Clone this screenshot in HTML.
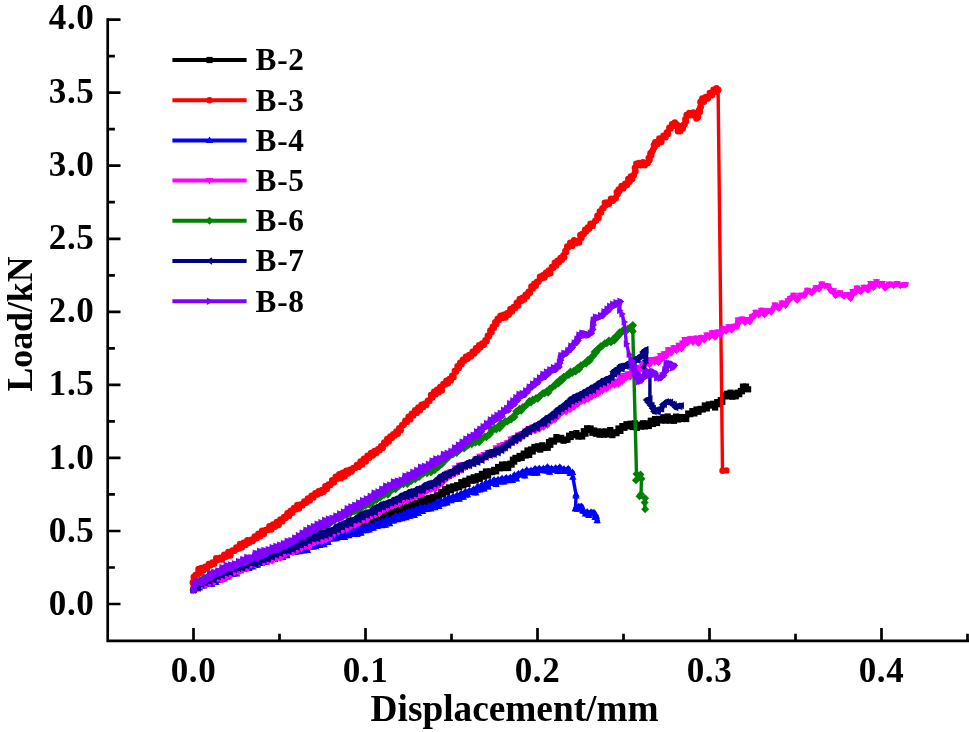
<!DOCTYPE html>
<html lang="en">
<head>
<meta charset="utf-8">
<title>Load / Displacement curves</title>
<style>
html,body{margin:0;padding:0;background:#ffffff;}
body{width:969px;height:732px;overflow:hidden;}
svg{display:block;}
</style>
</head>
<body>
<svg width="969" height="732" viewBox="0 0 969 732">
<rect width="969" height="732" fill="#ffffff"/>
<defs>
<marker id="m2" markerUnits="userSpaceOnUse" markerWidth="10" markerHeight="10" viewBox="-5 -5 10 10" refX="0" refY="0" orient="0" overflow="visible"><g fill="#000000"><rect x="-3.1" y="-3.1" width="6.2" height="6.2"/></g></marker>
<marker id="m3" markerUnits="userSpaceOnUse" markerWidth="10" markerHeight="10" viewBox="-5 -5 10 10" refX="0" refY="0" orient="0" overflow="visible"><g fill="#ff0000"><circle r="3.2"/></g></marker>
<marker id="m4" markerUnits="userSpaceOnUse" markerWidth="10" markerHeight="10" viewBox="-5 -5 10 10" refX="0" refY="0" orient="0" overflow="visible"><g fill="#0000ff"><path d="M0 -4 L3.7 2.6 L-3.7 2.6 Z"/></g></marker>
<marker id="m5" markerUnits="userSpaceOnUse" markerWidth="10" markerHeight="10" viewBox="-5 -5 10 10" refX="0" refY="0" orient="0" overflow="visible"><g fill="#ff00ff"><path d="M0 4 L3.7 -2.6 L-3.7 -2.6 Z"/></g></marker>
<marker id="m6" markerUnits="userSpaceOnUse" markerWidth="10" markerHeight="10" viewBox="-5 -5 10 10" refX="0" refY="0" orient="0" overflow="visible"><g fill="#008000"><path d="M0 -4 L4 0 L0 4 L-4 0 Z"/></g></marker>
<marker id="m7" markerUnits="userSpaceOnUse" markerWidth="10" markerHeight="10" viewBox="-5 -5 10 10" refX="0" refY="0" orient="0" overflow="visible"><g fill="#000080"><path d="M-4 0 L2.6 -3.7 L2.6 3.7 Z"/></g></marker>
<marker id="m8" markerUnits="userSpaceOnUse" markerWidth="10" markerHeight="10" viewBox="-5 -5 10 10" refX="0" refY="0" orient="0" overflow="visible"><g fill="#8000ff"><path d="M4 0 L-2.6 -3.7 L-2.6 3.7 Z"/></g></marker>
</defs>
<g fill="none" stroke-width="3.4" stroke-linejoin="round" stroke-linecap="round">
<polyline stroke="#000000" stroke-width="4.4" marker-start="url(#m2)" marker-mid="url(#m2)" marker-end="url(#m2)" points="193.5,590.0 194.5,587.4 196.8,584.9 199.2,586.6 201.5,583.1 203.6,583.9 205.6,580.0 207.7,582.7 209.8,578.1 211.8,581.4 213.9,576.9 215.9,579.4 218.0,577.1 220.1,577.8 222.1,573.3 224.2,576.2 226.2,572.1 228.3,574.0 230.4,570.3 232.4,572.7 234.5,569.6 236.6,570.7 238.6,566.8 240.7,569.6 242.8,564.7 244.8,568.0 246.9,565.1 248.9,567.4 251.0,563.3 253.1,564.7 255.3,560.6 257.4,563.8 259.6,559.9 261.7,562.8 263.9,558.4 266.0,561.9 268.2,556.6 270.3,559.1 272.4,556.3 274.4,558.8 276.5,553.7 278.6,555.5 280.6,551.0 282.7,553.6 284.8,549.3 286.9,552.2 288.9,547.8 291.0,551.2 293.1,547.5 295.1,550.6 297.2,547.0 299.2,548.5 301.3,544.4 303.4,547.0 305.4,542.7 307.5,545.5 309.5,541.5 311.6,543.7 313.7,541.2 315.7,544.1 317.8,539.3 319.8,542.0 321.9,537.1 324.0,538.8 326.0,535.4 328.1,536.9 330.1,533.3 332.2,535.0 334.3,530.2 336.3,533.5 338.4,529.9 340.5,532.0 342.5,528.2 344.6,531.7 346.7,527.7 348.8,529.5 350.8,526.7 352.9,528.1 354.9,524.8 357.0,526.5 359.0,522.3 361.0,526.5 363.1,521.7 365.1,524.2 367.2,519.2 369.2,521.8 371.2,517.7 373.3,522.0 375.3,517.1 377.3,519.7 379.4,515.9 381.4,516.9 383.5,512.5 385.5,516.1 387.5,511.6 389.6,515.3 391.6,511.6 393.7,512.6 395.7,508.4 397.8,512.1 399.9,507.6 401.9,510.4 404.0,506.0 406.1,509.4 408.1,504.3 410.2,507.7 412.2,503.8 414.3,506.9 416.4,502.7 418.4,503.9 420.5,500.3 422.6,503.5 424.6,499.2 426.7,502.0 428.8,497.9 430.8,500.8 432.9,497.0 434.9,499.4 436.9,495.2 438.9,496.6 440.9,492.0 443.0,494.4 445.0,489.1 447.0,492.2 449.0,487.5 451.0,490.2 453.1,486.4 455.1,488.4 457.2,485.2 459.2,487.2 461.3,482.2 463.4,485.3 465.4,480.7 467.5,484.0 469.5,478.7 471.6,480.7 473.7,477.3 475.7,480.4 477.8,476.2 479.8,478.8 481.9,473.9 484.0,476.7 486.0,471.5 488.1,475.5 490.1,471.3 492.2,472.1 494.1,469.9 496.1,471.3 498.1,467.0 500.0,468.3 502.1,464.6 504.1,468.0 506.2,464.4 508.2,468.0 510.3,463.7 511.6,464.6 512.9,459.7 514.2,461.6 515.5,457.9 517.6,458.8 519.6,456.0 521.7,458.0 523.7,453.6 525.8,455.5 527.5,450.5 529.2,454.9 531.0,449.5 532.7,451.5 534.4,447.0 536.1,448.7 538.2,446.3 540.2,449.6 542.3,445.3 544.3,448.0 546.4,446.8 547.7,447.8 549.0,442.1 550.3,444.8 551.6,440.6 554.0,441.6 556.4,437.1 558.8,439.5 561.2,437.9 563.6,440.7 566.0,439.9 567.5,439.6 569.1,435.7 570.7,437.0 572.2,434.1 574.3,435.2 576.4,433.1 578.4,436.6 580.5,435.3 582.2,436.5 583.8,431.2 585.5,433.6 587.1,428.3 588.8,430.0 590.6,428.5 592.4,432.8 594.2,430.5 596.0,433.7 597.8,431.5 599.6,434.7 601.7,431.6 603.9,434.7 606.0,431.4 608.1,434.4 610.2,430.1 612.4,435.1 614.5,432.3 616.5,433.2 618.5,428.5 620.4,430.9 622.4,426.1 624.4,427.8 626.5,424.2 628.6,426.3 630.7,423.7 632.7,427.0 634.8,423.4 636.9,427.8 639.0,424.7 640.9,426.6 642.9,423.3 644.8,426.5 646.7,423.4 648.8,426.0 650.8,420.7 652.9,424.0 655.0,419.1 657.0,423.0 659.1,418.9 661.2,420.5 663.4,417.3 665.5,420.6 667.7,416.5 669.9,420.6 672.0,418.2 674.0,420.8 676.0,416.6 678.0,419.5 680.1,417.0 682.1,419.0 684.1,417.1 686.2,419.0 688.2,413.5 690.3,414.2 692.4,411.1 694.4,413.4 696.5,409.5 698.5,411.8 700.6,408.9 702.7,409.5 704.8,405.5 706.8,408.4 708.9,404.4 711.0,405.6 713.0,403.8 715.1,407.5 717.2,402.1 719.2,404.2 720.8,400.2 722.3,401.8 723.9,395.4 725.4,396.2 727.1,393.7 728.9,396.2 730.6,392.7 732.3,396.7 734.0,394.1 735.7,396.3 737.4,392.7 739.2,394.2 740.9,391.0 741.9,391.2 743.0,386.6 744.0,387.3 746.0,386.6 748.1,389.3"/>
<polyline stroke="#ff0000" stroke-width="4.8" marker-start="url(#m3)" marker-mid="url(#m3)" marker-end="url(#m3)" points="193.5,589.0 193.3,589.5 193.0,583.1 192.8,582.4 193.7,576.9 194.6,579.5 195.5,574.9 197.0,574.6 198.5,568.9 200.0,572.9 201.5,568.0 203.3,570.6 205.2,566.7 207.0,568.6 208.8,563.9 210.7,565.3 212.5,562.4 214.3,563.8 216.2,558.3 218.0,560.0 220.1,557.6 222.1,559.5 224.2,554.7 226.2,556.8 228.3,551.9 230.4,555.6 232.4,550.5 234.5,550.7 236.3,547.5 238.2,548.7 240.0,544.0 241.8,547.6 243.7,542.8 245.5,544.9 247.3,540.1 249.2,542.7 251.0,539.6 252.8,541.1 254.7,536.5 256.5,538.2 258.4,533.6 260.2,536.3 262.1,530.7 263.9,534.0 265.8,529.9 267.6,530.0 269.4,526.2 271.3,529.5 273.1,524.5 274.9,526.7 276.8,521.9 278.6,525.1 280.4,519.5 282.3,521.4 284.1,516.9 285.8,518.1 287.4,513.2 289.1,515.9 290.7,510.6 292.4,512.7 294.0,508.0 295.7,509.4 297.3,505.0 299.0,508.5 300.6,504.5 302.4,505.4 304.3,501.4 306.1,502.8 307.9,498.4 309.8,500.5 311.6,495.6 313.4,497.4 315.3,493.2 317.1,494.6 318.7,491.1 320.4,493.3 322.0,489.9 323.7,491.8 325.3,486.1 327.0,489.0 328.6,484.5 330.4,485.1 332.1,480.1 333.9,482.5 335.7,476.7 337.5,478.8 339.2,474.3 341.0,478.3 342.8,472.7 344.5,476.5 346.3,470.6 348.1,473.5 349.9,469.8 351.6,471.5 353.4,467.9 355.2,468.0 356.9,464.9 358.7,466.9 360.5,461.5 362.2,464.6 364.0,458.8 365.8,461.5 367.5,455.6 369.3,457.8 371.0,452.9 372.8,455.5 374.6,451.0 376.3,453.1 378.1,449.3 379.6,450.3 381.1,446.1 382.7,448.1 384.2,442.5 385.7,443.8 387.2,439.0 388.8,441.4 390.3,436.4 391.8,437.9 393.3,434.1 394.8,435.5 396.3,431.5 397.8,433.8 399.2,428.1 400.7,430.2 402.2,424.9 403.7,425.0 405.3,420.7 406.9,422.0 408.6,416.6 410.2,419.4 411.8,413.6 413.4,415.4 415.1,410.3 416.7,412.9 418.3,407.5 419.9,410.2 421.6,404.7 423.2,407.1 424.8,403.7 426.3,404.9 427.9,400.6 429.4,401.1 431.0,395.0 432.5,397.6 434.1,391.8 435.6,394.3 437.1,389.8 438.7,392.3 440.2,387.0 441.8,390.6 443.3,384.0 444.9,384.5 446.4,380.6 448.0,383.3 449.5,378.9 450.8,380.4 452.2,375.8 453.5,377.2 454.8,371.0 456.2,371.5 457.5,366.1 458.9,368.1 460.2,362.6 461.5,364.3 462.9,359.6 464.2,360.7 465.9,356.8 467.6,358.7 469.2,354.9 470.9,356.5 472.6,351.8 474.3,353.6 475.9,348.2 477.5,350.2 479.1,345.2 480.6,347.3 482.2,343.4 483.8,344.7 485.4,340.2 486.6,341.2 487.8,335.7 489.1,336.2 490.3,330.5 491.5,332.2 492.7,326.8 494.0,327.7 495.2,322.1 496.4,324.0 497.7,318.6 498.9,320.0 500.5,315.8 502.2,318.1 503.8,314.7 505.5,317.6 507.1,313.2 508.8,314.7 510.4,309.0 512.1,311.6 513.7,306.9 515.2,308.1 516.7,302.7 518.2,305.6 519.7,298.9 521.2,301.0 522.6,297.8 524.1,299.5 525.6,294.7 527.1,296.4 528.6,291.8 530.0,292.7 531.4,286.5 532.8,288.5 534.3,283.8 535.7,285.7 537.1,281.6 538.5,281.7 540.0,276.7 541.5,278.4 543.0,275.1 544.5,277.5 546.0,272.7 547.4,274.0 548.9,270.4 550.4,273.3 551.9,267.0 553.4,267.7 554.8,262.7 556.2,265.6 557.6,260.6 559.1,262.0 560.5,257.9 561.9,259.7 563.3,255.4 564.3,257.3 565.3,250.9 566.2,252.0 567.2,246.5 568.2,247.2 570.2,242.7 572.2,245.9 574.1,240.3 576.1,243.3 578.1,240.9 579.2,242.5 580.3,235.0 581.5,237.9 582.6,233.7 583.7,234.3 585.1,229.8 586.4,231.3 587.8,227.5 589.1,228.7 590.5,223.8 592.7,226.1 594.9,221.3 596.1,220.4 597.4,215.7 598.6,217.9 599.8,211.5 601.1,212.4 602.3,208.5 603.5,208.0 604.8,202.8 606.0,205.0 607.2,202.4 609.1,203.7 611.0,198.8 612.8,200.7 614.7,198.4 615.7,198.3 616.7,192.1 617.6,194.2 618.6,189.4 619.6,190.8 621.5,185.9 623.4,188.2 625.2,183.7 627.1,185.1 628.3,179.0 629.6,181.7 630.8,176.4 632.1,179.0 633.3,175.6 634.0,174.9 634.8,168.0 635.5,171.2 636.3,163.6 637.0,165.5 639.0,163.0 641.0,165.2 642.9,162.3 644.9,165.2 646.9,162.7 647.8,163.1 648.7,157.9 649.6,159.9 650.4,153.3 651.3,155.4 652.2,151.4 653.1,149.7 653.8,145.1 654.5,147.2 655.2,142.2 657.3,144.3 659.3,138.5 661.4,142.1 663.4,135.7 665.5,137.3 666.8,132.4 668.0,134.1 669.3,127.8 670.6,128.5 672.0,124.1 673.4,125.9 674.8,122.5 675.8,124.7 676.8,124.4 677.9,131.3 678.9,130.6 680.2,131.3 681.5,125.9 682.8,128.5 684.1,124.6 684.7,124.1 685.3,119.1 686.0,121.3 686.6,115.0 687.2,116.0 689.2,112.9 691.3,115.3 693.3,112.5 694.3,115.3 695.4,113.3 696.4,118.6 697.2,114.4 698.1,116.9 698.9,110.2 699.8,112.0 700.6,107.1 700.6,106.7 700.6,102.5 700.6,101.8 702.3,98.4 704.0,101.8 705.7,96.9 707.8,98.6 709.8,93.0 711.9,95.3 713.5,89.7 715.0,92.1 716.5,88.3 718.1,89.9"/>
<polyline stroke="#ff0000" marker-start="url(#m3)" marker-mid="url(#m3)" marker-end="url(#m3)" points="718.1,89.9 722.5,470.8 726.4,470.4"/>
<polyline stroke="#0000ff" stroke-width="5.2" marker-start="url(#m4)" marker-mid="url(#m4)" marker-end="url(#m4)" points="193.5,590.0 194.5,588.9 196.8,584.4 199.2,587.8 201.5,584.2 203.6,585.8 205.6,582.8 207.7,584.5 209.8,580.4 211.8,584.2 213.9,578.5 215.9,582.3 218.0,578.2 220.1,579.9 222.1,574.4 224.2,578.8 226.2,573.3 228.3,576.8 230.4,571.5 232.4,574.5 234.5,571.2 236.6,573.8 238.6,568.5 240.7,570.7 242.8,566.7 244.8,568.7 246.9,564.4 248.9,568.4 251.0,564.1 253.1,566.8 255.3,561.9 257.4,565.2 259.6,560.4 261.7,562.5 263.9,558.0 266.0,562.2 268.2,557.7 270.3,559.8 272.4,555.5 274.4,559.5 276.5,554.4 278.6,557.6 280.6,552.8 282.7,557.3 284.8,552.1 286.9,555.6 288.9,550.4 291.0,552.3 293.1,548.8 295.1,552.4 297.2,548.2 299.2,551.6 301.3,546.5 303.4,550.8 305.4,546.3 307.5,550.5 309.5,544.6 311.6,547.2 313.7,543.5 315.7,546.7 317.8,541.4 319.8,545.4 321.9,540.6 324.0,544.6 326.0,538.4 328.1,542.5 330.1,536.1 332.2,539.0 334.3,535.7 336.3,538.7 338.4,534.0 340.5,537.5 342.5,532.9 344.6,537.4 346.7,532.1 348.8,535.6 350.8,530.9 352.9,534.3 354.9,530.4 357.0,534.5 359.0,528.7 361.0,533.2 363.1,528.2 365.1,530.7 367.2,527.1 369.2,530.0 371.2,525.9 373.3,528.2 375.3,523.2 377.3,526.4 379.4,522.0 381.4,525.6 383.5,521.1 385.5,525.2 387.5,518.9 389.6,523.7 391.6,519.2 393.7,520.8 395.7,515.7 397.8,519.6 399.9,515.6 401.9,518.7 404.0,514.0 406.1,517.7 408.1,511.6 410.2,516.2 412.2,510.5 414.3,515.4 416.4,509.4 418.4,513.5 420.5,507.6 422.6,511.3 424.6,507.4 426.7,509.4 428.8,506.0 430.8,508.8 432.9,505.1 434.9,507.6 436.9,502.2 438.9,506.4 440.9,501.1 443.0,503.9 445.0,499.7 447.0,503.0 449.0,497.5 451.0,500.6 453.1,496.6 455.1,499.4 457.2,495.2 459.2,499.1 461.3,493.5 463.4,497.2 465.4,491.8 467.5,495.0 469.5,490.7 471.6,492.4 473.7,489.3 475.7,492.9 477.8,486.7 479.8,489.9 481.9,485.0 484.0,489.0 486.0,482.8 488.1,486.9 490.1,481.8 492.2,483.3 494.1,480.1 496.1,484.5 498.1,479.6 500.0,482.0 502.1,478.6 504.1,481.8 506.2,477.8 508.2,480.6 510.3,477.6 512.4,480.4 514.4,475.1 516.5,478.8 518.5,473.7 520.6,474.9 522.7,471.7 524.8,475.9 526.8,470.1 528.9,472.7 531.0,470.5 533.1,473.2 535.1,468.7 537.2,473.2 539.2,468.5 541.3,470.5 543.4,468.6 545.4,471.0 547.5,467.1 549.5,472.1 551.6,468.5 553.7,470.2 555.7,467.9 557.8,471.4 559.8,467.2 561.9,471.3 564.0,469.1 566.2,471.5 568.2,468.7 570.2,473.5 572.4,472.5"/>
<polyline stroke="#0000ff" marker-start="url(#m4)" marker-mid="url(#m4)" marker-end="url(#m4)" points="572.4,472.5 572.8,477.1 576.0,494.2 576.0,496.0 575.5,508.7"/>
<polyline stroke="#0000ff" stroke-width="5.2" marker-start="url(#m4)" marker-mid="url(#m4)" marker-end="url(#m4)" points="575.5,508.7 577.2,509.1 578.9,506.5 580.6,507.1 581.6,506.4 582.7,510.6 583.7,511.1 585.4,514.0 587.2,511.9 588.9,515.3 591.0,512.2 593.0,512.8 594.0,512.7 595.1,517.3 596.2,516.1 597.2,520.6"/>
<polyline stroke="#ff00ff" stroke-width="5.6" marker-start="url(#m5)" marker-mid="url(#m5)" marker-end="url(#m5)" points="193.5,590.0 194.5,588.9 196.2,584.7 198.0,588.4 199.8,582.7 201.5,585.5 203.6,580.9 205.6,585.1 207.7,580.2 209.8,583.4 211.8,577.7 213.9,582.1 215.9,576.0 218.0,578.7 220.1,574.9 222.1,579.8 224.2,574.4 226.2,577.7 228.3,571.2 230.4,575.2 232.4,570.2 234.5,572.3 236.6,568.0 238.6,572.1 240.7,565.9 242.8,569.8 244.8,564.4 246.9,569.0 248.9,563.4 251.0,565.1 253.1,561.0 255.3,565.2 257.4,560.1 259.6,562.7 261.7,559.5 263.9,562.8 266.0,558.6 268.2,561.5 270.3,558.5 272.4,560.8 274.4,555.2 276.5,558.3 278.6,553.9 280.6,558.1 282.7,551.8 284.8,554.8 286.8,550.7 288.9,552.3 291.0,547.4 293.0,552.4 295.1,547.7 297.1,550.2 299.2,543.9 301.3,548.2 303.3,542.2 305.4,546.6 307.5,542.2 309.5,546.4 311.6,541.5 313.7,542.9 315.7,537.6 317.8,541.3 319.8,536.8 321.9,541.5 324.0,535.5 326.0,539.4 328.1,533.9 330.1,537.5 332.2,532.8 334.3,533.8 336.3,529.8 338.4,531.7 340.5,528.3 342.5,530.4 344.6,524.4 346.7,529.2 348.8,522.9 350.8,526.6 352.9,522.5 354.9,525.2 357.0,519.9 359.0,523.3 361.0,518.8 363.1,520.4 365.1,516.0 367.2,519.8 369.2,513.8 371.2,516.3 373.3,512.2 375.3,514.9 377.3,508.8 379.4,513.5 381.4,506.3 383.5,510.3 385.5,506.0 387.5,508.3 389.6,502.7 391.6,506.7 393.6,502.4 395.5,505.1 397.5,501.3 399.5,503.9 401.4,500.0 403.4,501.7 405.4,497.6 407.3,500.6 409.3,496.4 411.3,498.6 413.2,493.1 415.2,496.7 417.2,492.3 419.1,495.1 421.1,490.3 423.1,493.7 425.0,488.3 427.0,490.7 429.0,486.7 430.9,489.4 432.9,486.3 434.7,489.1 436.5,483.4 438.3,485.7 440.1,480.7 441.9,483.3 443.8,477.3 445.6,479.6 447.4,473.2 449.2,476.2 451.0,471.7 453.1,474.6 455.1,468.1 457.2,472.2 459.2,465.4 461.3,470.0 463.4,464.7 465.4,467.2 467.5,463.8 469.5,465.5 471.6,461.8 473.7,462.8 475.7,459.1 477.8,461.6 479.8,456.3 481.9,459.2 484.0,454.6 486.0,457.2 488.1,452.6 490.1,455.1 492.2,452.2 494.1,454.5 496.0,448.0 497.8,451.1 499.7,445.8 501.6,449.6 503.5,444.6 505.4,448.5 507.3,442.8 509.1,445.1 511.0,439.0 512.9,442.3 514.7,437.6 516.5,441.0 518.3,435.2 520.1,438.7 522.0,433.8 523.8,436.0 525.6,431.2 527.4,433.3 529.2,428.6 531.0,431.2 533.1,427.0 535.1,430.5 537.2,426.5 539.2,429.1 541.3,424.6 543.4,426.9 545.4,421.9 547.5,424.9 549.5,419.2 551.6,421.0 553.3,417.0 555.0,419.6 556.8,414.7 558.5,415.9 560.2,410.9 561.9,412.5 564.0,407.7 566.0,411.6 568.1,405.8 570.1,409.3 572.2,404.9 573.9,406.8 575.7,401.8 577.4,404.4 579.1,398.8 580.9,401.5 582.6,398.7 584.5,400.5 586.3,394.3 588.1,399.0 590.0,395.1 591.7,396.7 593.4,391.2 595.1,394.8 596.9,389.2 598.6,393.0 600.3,388.5 602.4,390.4 604.4,384.3 606.5,388.8 608.5,383.2 610.6,385.5 612.5,381.6 614.5,384.9 616.4,381.4 618.4,384.0 620.3,377.4 622.2,381.3 624.2,375.6 626.1,377.6 628.1,373.9 630.0,376.8 632.0,371.3 634.0,372.8 636.0,368.3 638.0,371.8 640.0,367.3 641.7,368.6 643.3,363.7 645.0,364.8 647.3,360.6 649.6,364.3 651.9,359.7 654.5,361.7 657.0,359.2 658.7,362.3 660.5,355.7 662.2,358.5 664.2,353.9 666.3,355.8 668.3,349.9 671.0,353.0 673.8,347.8 676.5,350.2 679.0,345.4 681.5,348.5 682.6,343.0 683.7,345.4 684.8,339.7 687.5,342.8 690.3,338.8 693.0,342.0 695.8,338.3 698.5,343.0 701.3,337.5 704.0,339.7 706.8,335.1 709.5,336.9 712.3,332.8 715.0,336.9 717.8,332.1 720.6,334.6 723.3,328.5 726.1,331.0 728.8,326.9 731.6,329.9 734.3,326.3 737.0,326.4 738.1,320.2 739.3,322.2 742.0,319.2 744.8,322.2 747.5,319.7 749.8,321.7 752.0,316.8 753.9,316.2 755.8,312.3 758.7,314.7 761.5,310.4 764.4,314.4 767.3,310.9 771.2,311.9 775.0,305.2 778.9,308.3 782.2,303.2 785.5,305.2 788.0,300.8 790.4,298.5 793.7,295.4 797.1,300.0 800.4,295.4 804.0,295.6 807.5,290.4 811.8,292.8 816.1,287.9 819.0,288.8 821.8,284.1 824.7,285.5 828.0,286.1 831.2,291.0 833.4,290.9 835.5,295.4 839.8,292.8 844.1,295.9 847.4,294.5 850.6,298.3 852.8,291.5 854.9,292.7 857.1,288.2 860.7,291.4 864.3,287.4 867.9,290.0 870.8,283.6 873.6,287.2 876.5,281.8 879.4,285.2 882.2,283.7 885.1,288.0 889.4,284.2 893.7,285.4 897.0,283.6 900.2,285.4 905.6,284.8"/>
<polyline stroke="#008000" stroke-width="4.4" marker-start="url(#m6)" marker-mid="url(#m6)" marker-end="url(#m6)" points="193.5,590.0 194.2,588.9 195.0,585.6 197.2,585.1 199.3,581.0 201.5,582.0 203.6,578.1 205.6,579.3 207.7,576.5 209.8,576.9 211.8,573.4 213.9,574.6 215.9,572.7 218.0,574.6 220.1,571.6 222.1,571.9 224.2,569.7 226.2,571.0 228.3,568.8 230.4,570.5 232.4,568.2 234.5,567.9 236.6,565.7 238.6,565.7 240.7,562.9 242.8,563.7 244.8,560.3 246.9,561.9 248.9,560.3 251.0,561.4 253.1,559.0 255.3,559.7 257.4,557.8 259.6,558.4 261.7,556.6 263.9,556.7 266.0,553.0 268.2,554.6 270.3,553.4 272.4,553.8 274.4,551.1 276.5,551.5 278.6,549.9 280.6,551.9 282.7,548.5 284.8,549.8 286.9,545.2 288.9,546.2 291.0,544.1 292.9,545.1 294.7,542.3 296.6,542.9 298.5,540.6 300.4,541.4 302.2,537.4 304.1,537.9 306.0,535.0 307.9,536.5 309.7,532.9 311.6,533.5 313.5,532.1 315.3,532.8 317.2,528.6 319.1,529.8 321.0,526.5 322.8,527.4 324.7,524.7 326.6,526.8 328.5,522.8 330.3,523.3 332.2,521.5 334.2,520.7 336.2,518.1 338.2,518.8 340.2,516.1 342.3,515.9 344.3,514.5 346.3,515.3 348.3,513.3 350.3,513.6 352.2,510.8 354.1,511.4 355.9,509.6 357.8,511.3 359.7,508.2 361.6,508.0 363.4,503.8 365.3,505.9 367.2,502.1 369.1,504.5 371.0,499.9 372.8,502.3 374.7,498.7 376.6,500.1 378.5,496.6 380.3,497.6 382.2,494.0 384.1,495.1 386.0,492.4 387.8,494.8 389.7,491.0 391.6,490.3 393.6,488.5 395.5,489.2 397.5,485.7 399.5,485.8 401.4,483.4 403.4,484.3 405.4,482.1 407.3,483.9 409.3,480.0 411.3,481.0 413.2,477.6 415.2,479.2 417.2,476.9 419.1,477.0 421.1,474.0 423.1,473.8 425.0,470.8 427.0,473.3 429.0,470.1 430.9,472.4 432.9,468.9 434.7,470.3 436.5,465.8 438.3,467.3 440.1,464.0 441.9,464.2 443.8,459.5 445.6,460.3 447.4,455.8 449.2,456.7 451.0,454.2 452.9,454.5 454.7,451.1 456.6,453.1 458.5,448.8 460.4,449.6 462.2,447.5 464.1,448.6 466.0,445.0 467.9,445.6 469.7,443.5 471.6,444.3 473.5,440.9 475.4,442.7 477.3,440.3 479.1,442.3 481.0,437.5 482.9,438.2 484.8,436.5 486.4,437.3 488.1,435.1 489.7,434.5 491.4,430.0 493.0,430.3 494.7,427.7 496.3,429.4 498.0,426.4 499.6,428.2 501.3,423.3 503.4,424.2 505.4,421.0 507.4,421.5 509.5,419.5 511.2,419.6 512.8,416.7 514.5,416.9 516.1,411.4 517.8,411.8 519.5,408.8 521.1,410.7 522.8,406.9 524.4,407.1 526.1,404.9 527.7,404.0 529.4,400.9 531.0,402.6 532.7,399.4 534.3,400.1 536.0,397.9 537.8,398.7 539.5,396.0 541.3,395.1 543.0,392.9 544.7,393.3 546.5,391.2 548.2,392.8 549.9,388.4 551.6,388.2 553.3,386.0 555.0,385.7 556.8,382.6 558.5,383.4 560.2,379.4 561.9,380.6 563.6,376.8 565.3,376.9 567.0,374.8 568.8,375.1 570.5,371.4 572.2,372.9 573.9,370.8 575.7,371.4 577.4,368.1 579.1,369.2 580.9,365.2 582.6,365.1 584.4,363.3 586.2,363.6 587.9,360.1 589.7,360.7 591.5,357.1 593.0,356.3 594.5,352.0 596.0,352.8 597.6,349.0 599.1,348.8 600.6,346.2 602.7,345.8 604.8,343.3 606.8,343.3 608.9,340.6 611.0,342.2 612.7,339.5 614.4,340.5 616.1,336.1 617.8,336.7 619.6,332.2 621.3,332.7 623.8,329.3 626.4,331.1 628.1,328.4 629.9,328.0 631.6,326.7 632.8,325.2"/>
<polyline stroke="#008000" marker-start="url(#m6)" marker-mid="url(#m6)" marker-end="url(#m6)" points="632.8,325.2 632.8,331.3 636.5,474.0 640.5,474.6 635.9,480.3 641.5,478.7 641.0,494.2 639.5,496.3 645.1,498.3 644.6,502.5 645.1,509.2"/>
<polyline stroke="#000080" stroke-width="5.2" marker-start="url(#m7)" marker-mid="url(#m7)" marker-end="url(#m7)" points="193.5,590.0 194.5,588.5 196.2,585.3 198.0,588.2 199.8,583.4 201.5,584.2 203.6,581.2 205.6,583.1 207.7,578.7 209.8,581.6 211.8,576.8 213.9,579.9 215.9,575.9 218.0,576.7 220.1,572.7 222.1,575.5 224.2,571.6 226.2,573.3 228.3,569.9 230.4,572.5 232.4,568.3 234.5,569.6 236.6,566.8 238.6,568.6 240.7,565.2 242.8,567.9 244.8,562.9 246.9,565.7 248.9,562.0 251.0,563.2 253.1,560.7 255.3,564.2 257.4,559.3 259.6,562.6 261.7,557.9 263.9,560.3 266.0,556.3 268.2,559.1 270.3,556.2 272.4,556.9 274.4,552.5 276.5,554.9 278.6,551.6 280.6,553.2 282.7,548.8 284.8,551.2 286.8,548.1 288.9,551.0 291.0,546.8 293.0,549.4 295.1,544.0 297.1,547.3 299.2,541.8 301.3,545.4 303.3,539.9 305.4,543.5 307.5,538.7 309.5,541.1 311.6,538.3 313.7,539.0 315.7,535.2 317.8,538.8 319.8,533.3 321.9,536.5 324.0,532.4 326.0,535.6 328.1,530.7 330.1,533.9 332.2,529.8 334.3,531.3 336.3,526.3 338.4,529.9 340.5,524.2 342.5,527.2 344.6,522.7 346.7,525.1 348.8,520.1 350.8,523.7 352.9,519.7 354.9,520.2 357.0,517.1 359.0,519.8 361.0,514.3 363.1,517.4 365.1,512.8 367.2,515.4 369.2,511.9 371.2,513.5 373.3,508.2 375.3,512.2 377.3,506.7 379.4,509.1 381.4,504.2 383.5,507.4 385.5,503.3 387.5,505.4 389.6,501.6 391.6,503.4 393.6,499.4 395.5,501.8 397.5,498.2 399.5,499.9 401.4,495.3 403.4,497.3 405.4,493.6 407.3,496.8 409.3,491.6 411.3,495.8 413.2,491.0 415.2,494.0 417.2,488.8 419.1,490.7 421.1,487.9 423.1,490.6 425.0,484.8 427.0,487.2 429.0,483.3 430.9,486.3 432.9,482.7 434.7,484.1 436.5,479.6 438.3,482.7 440.1,476.3 441.9,479.7 443.8,474.3 445.6,477.5 447.4,473.1 449.2,475.5 451.0,471.7 453.1,473.4 455.1,469.0 457.2,471.5 459.2,465.9 461.3,469.5 463.4,464.6 465.4,466.4 467.5,462.8 469.5,465.6 471.6,462.2 473.7,463.9 475.7,458.5 477.8,462.2 479.8,458.0 481.9,460.2 484.0,455.8 486.0,457.0 488.1,452.5 490.1,455.3 492.2,451.8 494.1,454.2 496.1,449.4 498.1,452.7 500.0,449.3 501.7,450.5 503.4,446.3 505.1,447.8 506.9,443.8 508.6,445.3 510.3,441.7 512.0,442.5 513.7,438.4 515.5,440.3 517.2,435.8 518.9,438.4 520.6,435.1 522.3,435.7 524.1,431.7 525.8,433.9 527.5,429.0 529.3,431.7 531.0,427.9 533.1,429.3 535.1,425.1 537.2,427.9 539.2,423.2 541.3,423.8 543.0,420.4 544.7,423.6 546.5,417.7 548.2,420.3 549.9,416.0 551.6,417.3 553.3,413.1 555.0,415.8 556.8,410.0 558.5,411.7 560.2,407.4 561.9,408.7 563.6,405.1 565.3,407.2 567.0,402.2 568.8,404.6 570.5,399.0 572.2,401.3 573.9,396.8 575.7,399.9 577.4,395.3 579.1,398.2 580.9,393.8 582.6,395.4 584.5,391.5 586.3,393.4 588.1,389.5 590.0,391.2 591.7,387.3 593.4,390.4 595.1,385.8 596.9,386.8 598.6,382.9 600.3,384.0 602.4,380.6 604.4,382.8 606.5,378.7 608.5,380.5 610.6,377.1 611.9,377.6 613.2,371.7 614.5,374.1 615.8,369.6 617.9,372.0 619.9,366.1 622.0,368.9 624.0,365.4 626.1,366.3 628.1,363.5 630.0,365.9 632.0,361.2 634.0,362.2 635.9,358.7 637.8,360.2 639.7,356.5 641.6,356.1 643.0,352.0 644.3,354.8 645.7,349.8"/>
<polyline stroke="#000080" marker-start="url(#m7)" marker-mid="url(#m7)" marker-end="url(#m7)" points="645.7,349.8 645.7,355.0 645.7,360.6 643.7,367.3 649.9,374.0 649.9,398.8 646.8,399.9"/>
<polyline stroke="#000080" stroke-width="5.2" marker-start="url(#m7)" marker-mid="url(#m7)" marker-end="url(#m7)" points="646.8,399.9 648.1,402.3 649.3,401.5 650.6,405.5 651.9,405.5 652.6,408.4 653.3,408.5 654.0,411.6 656.1,410.0 658.1,411.8 660.2,408.9 661.6,408.8 662.9,404.5 664.3,404.3 666.3,401.8 668.4,402.2 670.5,402.2 672.6,404.3 674.2,404.8 675.7,407.6 677.8,405.9 679.8,406.5 681.3,405.6"/>
<polyline stroke="#8000ff" stroke-width="5.4" marker-start="url(#m8)" marker-mid="url(#m8)" marker-end="url(#m8)" points="193.4,590.0 193.9,590.4 194.4,584.3 194.9,585.1 197.1,581.1 199.3,583.3 201.5,579.4 203.6,582.7 205.6,577.2 207.7,579.5 209.8,573.4 211.8,577.6 213.9,572.2 215.9,574.2 218.0,570.8 220.1,573.2 222.1,567.5 224.2,571.2 226.2,565.3 228.3,568.8 230.4,564.7 232.4,568.3 234.5,563.6 236.6,566.2 238.6,561.4 240.7,564.0 242.8,559.4 244.8,562.8 246.9,557.3 248.9,560.9 251.0,557.4 253.1,558.5 255.3,553.1 257.4,558.4 259.6,551.2 261.7,556.5 263.9,550.4 266.0,554.8 268.2,549.4 270.3,551.5 272.2,547.5 274.1,550.3 275.9,546.3 277.8,550.0 279.7,545.0 281.6,547.7 283.5,543.4 285.4,546.4 287.2,541.1 289.1,544.4 291.0,540.4 292.9,542.7 294.7,537.9 296.6,540.7 298.5,535.5 300.4,537.4 302.2,532.9 304.1,536.6 306.0,530.1 307.9,534.1 309.7,528.0 311.6,530.9 313.5,526.4 315.3,530.9 317.2,524.1 319.1,527.2 321.0,522.5 322.8,525.8 324.7,520.3 326.6,525.4 328.5,519.0 330.3,522.8 332.2,518.1 334.1,520.8 336.0,515.9 337.8,518.8 339.7,513.7 341.6,518.0 343.5,512.0 345.4,514.3 347.3,508.5 349.1,513.3 351.0,506.8 352.9,509.6 354.8,505.1 356.8,508.1 358.7,502.7 360.6,506.6 362.6,500.5 364.5,503.9 366.4,498.7 368.4,501.5 370.3,496.2 372.2,498.8 374.2,493.0 376.1,496.8 378.1,491.7 380.0,494.8 381.9,488.9 383.9,492.9 385.8,486.0 387.7,489.4 389.7,485.0 391.6,487.1 393.5,481.8 395.5,486.0 397.4,480.9 399.3,484.1 401.3,480.0 403.2,481.7 405.1,475.9 407.1,480.7 409.0,474.6 411.0,477.6 412.9,472.3 414.8,476.5 416.8,470.2 418.7,473.8 420.6,467.1 422.6,471.7 424.5,466.2 426.4,469.8 428.4,464.3 430.3,466.5 432.2,460.9 434.1,465.1 435.9,458.8 437.8,463.3 439.7,458.2 441.6,459.7 443.5,454.3 445.4,458.1 447.2,453.2 449.1,456.0 451.0,451.3 452.9,452.8 454.7,447.6 456.6,451.2 458.5,444.9 460.4,449.0 462.2,442.0 464.1,444.6 466.0,438.9 467.9,442.5 469.7,436.6 471.6,438.3 473.2,435.1 474.9,436.5 476.6,431.6 478.2,435.8 479.9,429.1 481.5,431.7 483.2,426.4 484.8,427.6 486.6,423.4 488.5,426.2 490.4,419.8 492.2,422.6 493.8,417.4 495.4,420.2 497.1,415.3 498.7,418.7 500.3,413.1 501.9,416.4 503.6,410.2 505.2,411.3 506.7,408.1 508.3,410.6 509.8,403.4 511.4,406.6 512.9,400.7 514.4,404.4 516.0,397.5 517.5,400.5 519.1,394.2 520.6,396.8 522.3,393.4 524.1,395.5 525.8,390.6 527.5,392.0 529.3,386.9 531.0,388.0 532.7,383.9 534.4,385.4 536.1,380.8 537.9,382.8 539.6,377.8 541.3,378.6 543.0,374.3 544.7,377.3 546.5,371.9 548.2,374.2 549.9,369.6 551.6,371.0 553.5,367.5 555.3,370.1 557.1,365.9 559.0,366.9 559.4,362.5 559.8,363.3 560.2,358.9 560.6,360.2 561.0,355.5 562.5,356.0 564.0,353.2 566.0,354.0 568.0,350.4 569.5,350.6 570.9,346.0 572.4,347.5 574.2,342.9 576.0,343.3 577.0,339.0 578.0,340.7 579.0,335.0 580.0,336.5 582.0,332.9 584.0,335.6 586.0,333.8 588.1,335.5 590.3,333.2 591.3,333.3 592.4,329.0 592.6,329.8 592.8,324.7 593.1,325.1 593.3,320.7 593.5,319.9 595.5,316.9 598.0,317.9 600.6,315.4 602.3,316.3 604.1,311.8 605.8,312.8 607.1,309.0 608.4,310.8 609.7,306.2 611.0,307.5 612.7,304.2 614.4,305.7 616.1,302.5 618.2,304.4 620.2,301.5"/>
<polyline stroke="#8000ff" marker-start="url(#m8)" marker-mid="url(#m8)" marker-end="url(#m8)" points="620.2,301.5 619.7,310.6 622.0,314.0 624.2,322.0 626.4,343.7 629.2,354.4 631.3,360.6"/>
<polyline stroke="#8000ff" stroke-width="5.4" marker-start="url(#m8)" marker-mid="url(#m8)" marker-end="url(#m8)" points="631.3,360.6 631.9,364.7 632.5,363.3 633.2,368.1 633.8,366.1 634.4,371.8 635.4,371.5 636.4,377.2 637.5,374.1 638.5,381.7 639.5,380.3 640.9,381.0 642.3,376.4 643.7,377.7 645.1,372.3 646.4,376.1 647.8,371.3 649.9,374.6 651.9,371.2 654.0,374.6 655.4,373.2 656.7,377.8 658.1,377.2 660.2,378.4 662.2,375.4 663.6,375.6 665.0,369.4 666.4,370.8 666.4,366.1 666.4,367.6 666.4,362.8 668.5,365.8 670.5,363.4 672.6,367.7 674.5,365.4"/>
</g>
<g stroke="#000000" stroke-width="2.7" fill="none" stroke-linecap="butt">
<path d="M107.7 18.3 V640.9 H969"/>
<path d="M107.7 604.0 h12.8 M107.7 567.5 h7.2 M107.7 531.0 h12.8 M107.7 494.4 h7.2 M107.7 457.9 h12.8 M107.7 421.4 h7.2 M107.7 384.9 h12.8 M107.7 348.3 h7.2 M107.7 311.8 h12.8 M107.7 275.3 h7.2 M107.7 238.8 h12.8 M107.7 202.2 h7.2 M107.7 165.7 h12.8 M107.7 129.2 h7.2 M107.7 92.7 h12.8 M107.7 56.1 h7.2 M107.7 19.6 h12.8 M193.5 640.9 v-12.8 M279.5 640.9 v-7.2 M365.5 640.9 v-12.8 M451.5 640.9 v-7.2 M537.5 640.9 v-12.8 M623.5 640.9 v-7.2 M709.5 640.9 v-12.8 M795.5 640.9 v-7.2 M881.5 640.9 v-12.8 M967.5 640.9 v-7.2"/>
</g>
<g font-family="'Liberation Serif', 'Times New Roman', Times, serif" font-weight="bold" fill="#000000">
<g font-size="35" text-anchor="end" letter-spacing="0.6">
<text x="94.4" y="615.0">0.0</text>
<text x="94.4" y="541.8">0.5</text>
<text x="94.4" y="468.6">1.0</text>
<text x="94.4" y="395.4">1.5</text>
<text x="94.4" y="322.2">2.0</text>
<text x="94.4" y="249.0">2.5</text>
<text x="94.4" y="175.8">3.0</text>
<text x="94.4" y="102.6">3.5</text>
<text x="94.4" y="29.4">4.0</text>
</g>
<g font-size="35" text-anchor="middle" letter-spacing="0.6">
<text x="193.5" y="682.3">0.0</text>
<text x="365.5" y="682.3">0.1</text>
<text x="537.5" y="682.3">0.2</text>
<text x="709.5" y="682.3">0.3</text>
<text x="881.5" y="682.3">0.4</text>
</g>
<text x="514.6" y="721" font-size="37.3" text-anchor="middle">Displacement/mm</text>
<text transform="translate(31.8 324) rotate(-90)" font-size="36.2" text-anchor="middle" textLength="135" lengthAdjust="spacingAndGlyphs">Load/kN</text>
<g font-size="31.3" letter-spacing="0.7">
<text x="255.6" y="70.4">B-2</text>
<text x="255.6" y="110.6">B-3</text>
<text x="255.6" y="150.8">B-4</text>
<text x="255.6" y="191.0">B-5</text>
<text x="255.6" y="231.2">B-6</text>
<text x="255.6" y="271.4">B-7</text>
<text x="255.6" y="311.6">B-8</text>
</g>
</g>
<g stroke-width="4" fill="none">
<polyline stroke="#000000" marker-mid="url(#m2)" points="172.4,60.0 209.5,60.0 246.6,60.0"/>
<polyline stroke="#ff0000" marker-mid="url(#m3)" points="172.4,100.2 209.5,100.2 246.6,100.2"/>
<polyline stroke="#0000ff" marker-mid="url(#m4)" points="172.4,140.4 209.5,140.4 246.6,140.4"/>
<polyline stroke="#ff00ff" marker-mid="url(#m5)" points="172.4,180.6 209.5,180.6 246.6,180.6"/>
<polyline stroke="#008000" marker-mid="url(#m6)" points="172.4,220.8 209.5,220.8 246.6,220.8"/>
<polyline stroke="#000080" marker-mid="url(#m7)" points="172.4,261.0 209.5,261.0 246.6,261.0"/>
<polyline stroke="#8000ff" marker-mid="url(#m8)" points="172.4,301.2 209.5,301.2 246.6,301.2"/>
</g>
</svg>
</body>
</html>
